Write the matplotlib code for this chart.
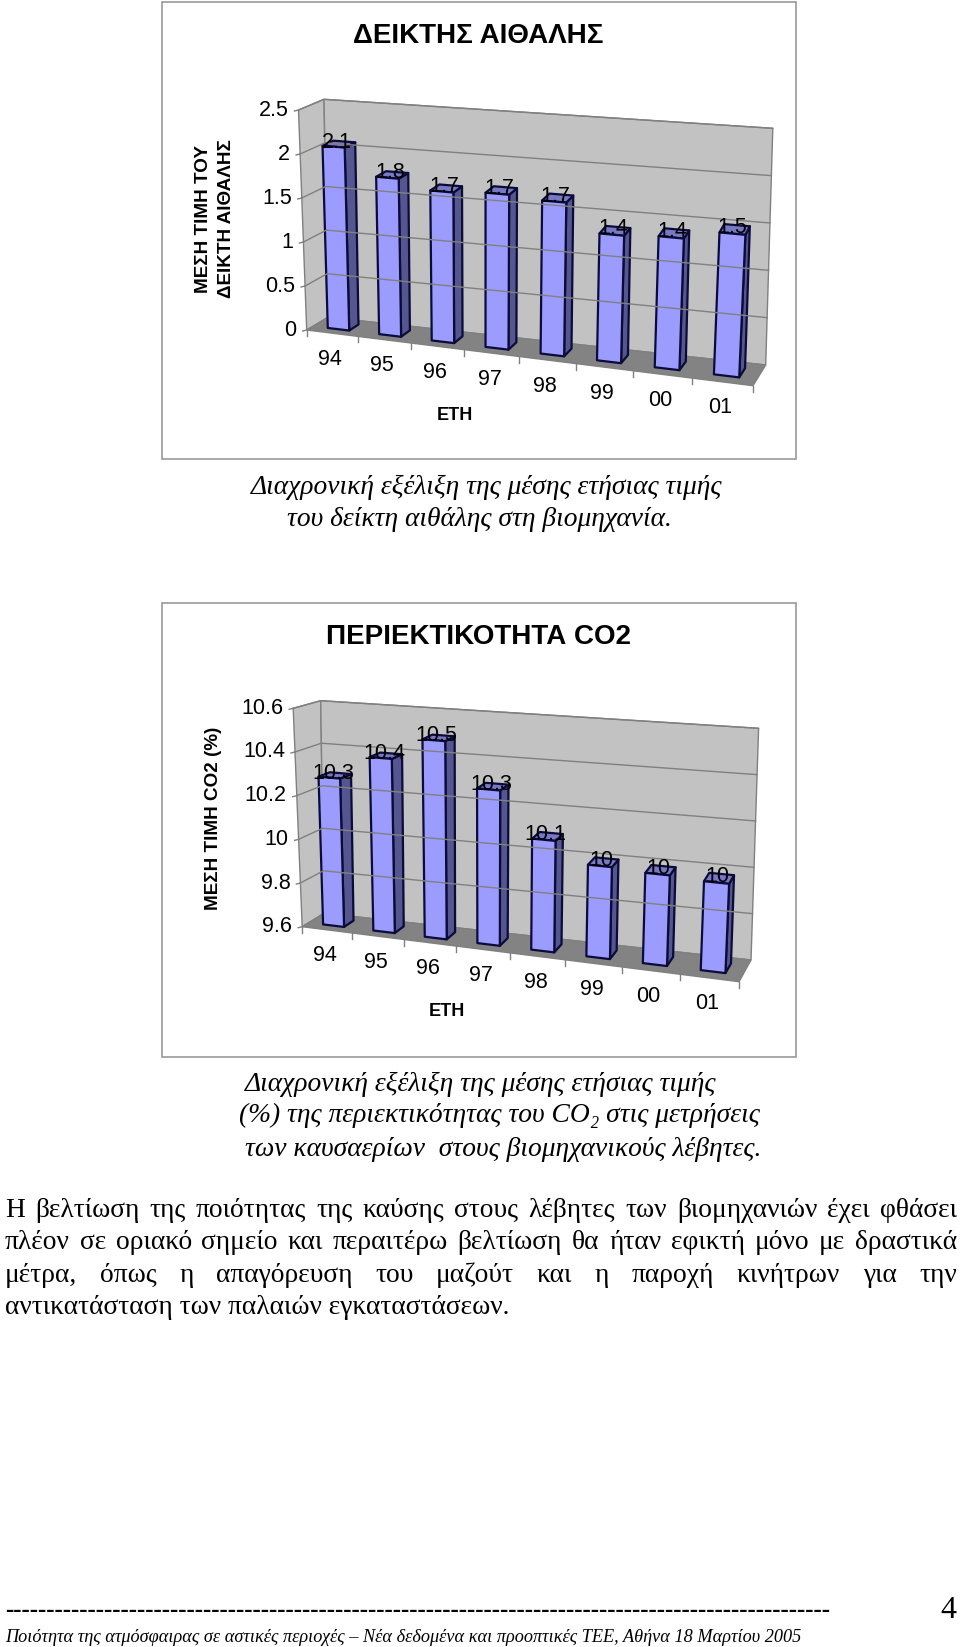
import matplotlib
matplotlib.use('Agg')
import matplotlib.pyplot as plt
from matplotlib.patches import Polygon, Rectangle

# data
years = ['94', '95', '96', '97', '98', '99', '00', '01']
soot_values = [2.07, 1.77, 1.67, 1.70, 1.67, 1.37, 1.40, 1.50]
soot_ticks = [0, 0.5, 1, 1.5, 2, 2.5]
co2_values = [10.28, 10.39, 10.49, 10.29, 10.09, 10.00, 9.99, 9.98]
co2_ticks = [9.6, 9.8, 10, 10.2, 10.4, 10.6]

SANS = 'Liberation Sans'
SERIF = 'Liberation Serif'
WALL = '#C2C2C2'
FLOOR = '#838383'
LINE = '#808080'
FRONT = '#9C9CFF'
SIDE = '#55558F'
TOP = '#7878C4'
EDGE = '#0B0B3A'

# corners of the 3d box in page pixels: (front/back)(left/right)(bottom/top)
soot_box = dict(flb=(306.7, 330), flt=(298.5, 110), blb=(328, 317.3), blt=(324, 99.3),
                frb=(753, 385.7), frt=(765.7, 146.7), brb=(765.7, 365), brt=(772.8, 128.3))
co2_box = dict(flb=(302.2, 926.7), flt=(293.2, 708.3), blb=(324, 913.3), blt=(320.7, 700.7),
               frb=(739.1, 981.7), frt=(750.6, 744.3), brb=(751, 960), brt=(758.6, 728.3))

fig = plt.figure(figsize=(9.6, 16.47), dpi=100)
ax = fig.add_axes([0, 0, 1, 1])
ax.set_xlim(0, 960)
ax.set_ylim(1647, 0)
ax.axis('off')


def project(box, u, v, d):
    # u across, v up, d depth, all 0..1
    k = 0.91
    u = k * u / (1 + (k - 1) * u)
    res = []
    for i in range(2):
        bottom = (box['flb'][i] * (1 - u) + box['frb'][i] * u) * (1 - d) + (box['blb'][i] * (1 - u) + box['brb'][i] * u) * d
        top = (box['flt'][i] * (1 - u) + box['frt'][i] * u) * (1 - d) + (box['blt'][i] * (1 - u) + box['brt'][i] * u) * d
        res.append(bottom * (1 - v) + top * v)
    return res


def chart(box, values, ticks, frame, title, title_y, ylabel, ylabel_xy, xlabel_xy):
    ax.add_patch(Rectangle((frame[0], frame[1]), frame[2] - frame[0], frame[3] - frame[1],
                           fc='white', ec='#9A9A9A', lw=1.2))
    ax.text((frame[0] + frame[2]) / 2 - 0.5, title_y, title, family=SANS, fontsize=TITLE_SIZE, fontweight='bold',
            ha='center', va='center')
    ax.text(ylabel_xy[0], ylabel_xy[1], ylabel, family=SANS, fontsize=13.6, fontweight='bold', rotation=90,
            ha='center', va='center', ma='center', linespacing=1.5)
    ax.text(xlabel_xy[0], xlabel_xy[1], 'ΕΤΗ', family=SANS, fontsize=13, fontweight='bold', ha='center', va='center')

    # walls and floor
    ax.add_patch(Polygon([box['flb'], box['flt'], box['blt'], box['blb']], fc=WALL, ec=LINE, lw=1))
    ax.add_patch(Polygon([box['blb'], box['blt'], box['brt'], box['brb']], fc=WALL, ec=LINE, lw=1))
    ax.add_patch(Polygon([box['flb'], box['blb'], box['brb'], box['frb']], fc=FLOOR, ec=LINE, lw=1))

    vmin, vmax = ticks[0], ticks[-1]
    for t in ticks:
        v = (t - vmin) / (vmax - vmin)
        p0 = project(box, 0, v, 0)
        p1 = project(box, 0, v, 1)
        p2 = project(box, 1, v, 1)
        if t != vmin:
            ax.plot([p0[0], p1[0], p2[0]], [p0[1], p1[1], p2[1]], color=LINE, lw=1)
        ax.plot([p0[0] - 4, p0[0]], [p0[1] + 1, p0[1]], color=LINE, lw=1)
        ax.text(p0[0] - 10, p0[1], '%g' % t, family=SANS, fontsize=15.5, ha='right', va='center')

    n = len(values)
    for i in range(n + 1):
        p = project(box, i / n, 0, 0)
        ax.plot([p[0], p[0]], [p[1], p[1] + 6], color=LINE, lw=1)

    d0, d1 = 0.3, 0.75
    half = 0.21
    labels = []
    for i, val in enumerate(values):
        ul, ur = (i + 0.5 - half) / n, (i + 0.5 + half) / n
        v = (val - vmin) / (vmax - vmin)
        fl0 = project(box, ul, 0, d0)
        fr0 = project(box, ur, 0, d0)
        fl1 = project(box, ul, v, d0)
        fr1 = project(box, ur, v, d0)
        br0 = project(box, ur, 0, d1)
        br1 = project(box, ur, v, d1)
        bl1 = project(box, ul, v, d1)
        ax.add_patch(Polygon([fr0, br0, br1, fr1], fc=SIDE, ec=EDGE, lw=1.6, joinstyle='round'))
        ax.add_patch(Polygon([fl1, fr1, br1, bl1], fc=TOP, ec=EDGE, lw=1.6, joinstyle='round'))
        ax.add_patch(Polygon([fl0, fr0, fr1, fl1], fc=FRONT, ec=EDGE, lw=1.6, joinstyle='round'))
        # label sits on the cap of the bar
        c = project(box, (i + 0.5) / n, v, (d0 + d1) / 2)
        labels.append((c[0] - 2, c[1] - 2, '%g' % round(val, 1)))
        # year under the floor edge
        f = project(box, (i + 0.5) / n, 0, 0)
        ax.text(f[0] - 2, f[1] + 26, years[i], family=SANS, fontsize=15.5, ha='center', va='center')
    for x, y, s in labels:
        ax.text(x, y, s, family=SANS, fontsize=15.5, ha='center', va='center', zorder=5)


def caption(x, y, s):
    ax.text(x, y, s, family=SERIF, style='italic', fontsize=CAPTION_SIZE, ha='left', va='baseline')


def justified(y, s, x0, x1):
    # word by word so the line fills the page width
    r = fig.canvas.get_renderer()
    words = s.split(' ')
    items = [ax.text(0, y, w, family=SERIF, fontsize=BODY_SIZE, ha='left', va='baseline') for w in words]
    widths = [t.get_window_extent(r).width for t in items]
    gap = (x1 - x0 - sum(widths)) / (len(words) - 1)
    x = x0
    for t, w in zip(items, widths):
        t.set_x(x)
        x += w + gap


TITLE_SIZE = 20
CAPTION_SIZE = 19.8
BODY_SIZE = 19.8

chart(soot_box, soot_values, soot_ticks, (162, 1.7, 796, 459), 'ΔΕΙΚΤΗΣ ΑΙΘΑΛΗΣ', 36,
      'ΜΕΣΗ ΤΙΜΗ ΤΟΥ\nΔΕΙΚΤΗ ΑΙΘΑΛΗΣ', (215, 219), (455, 415))
chart(co2_box, co2_values, co2_ticks, (162, 603.3, 796, 1056.7), 'ΠΕΡΙΕΚΤΙΚΟΤΗΤΑ CO2', 637,
      'ΜΕΣΗ ΤΙΜΗ CO2 (%)', (213, 818), (447, 1011))

caption(251, 494, 'Διαχρονική εξέλιξη της μέσης ετήσιας τιμής')
caption(287, 526, 'του δείκτη αιθάλης στη βιομηχανία.')
caption(245, 1091, 'Διαχρονική εξέλιξη της μέσης ετήσιας τιμής')
caption(239, 1122, '(%) της περιεκτικότητας του CO₂ στις μετρήσεις')
caption(245, 1156, 'των καυσαερίων  στους βιομηχανικούς λέβητες.')

justified(1217, 'Η βελτίωση της ποιότητας της καύσης στους λέβητες των βιομηχανιών έχει φθάσει', 5, 957)
justified(1249, 'πλέον σε οριακό σημείο και περαιτέρω βελτίωση θα ήταν εφικτή μόνο με δραστικά', 5, 957)
justified(1282, 'μέτρα, όπως η απαγόρευση του μαζούτ και η παροχή κινήτρων για την', 5, 957)
ax.text(5, 1314, 'αντικατάσταση των παλαιών εγκαταστάσεων.', family=SERIF, fontsize=BODY_SIZE, ha='left', va='baseline')

ax.text(5, 1611, '-' * 100, family=SERIF, fontweight='bold', fontsize=18, ha='left', va='center')
ax.text(948, 1610, '4', family=SERIF, fontsize=23, ha='center', va='center')
ax.text(5, 1637, 'Ποιότητα της ατμόσφαιρας σε αστικές περιοχές – Νέα δεδομένα και προοπτικές ΤΕΕ, Αθήνα 18 Μαρτίου 2005',
        family=SERIF, style='italic', fontsize=13.15, ha='left', va='center')

fig.savefig('out.png', dpi=100)
